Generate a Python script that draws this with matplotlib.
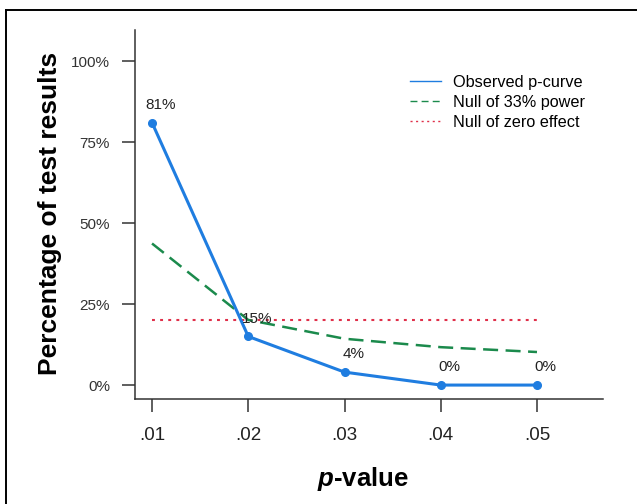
import matplotlib
matplotlib.use("Agg")
import matplotlib.pyplot as plt
from matplotlib.lines import Line2D

plt.rcParams['font.family'] = ['Liberation Sans', 'DejaVu Sans']
plt.rcParams['mathtext.fontset'] = 'custom'
plt.rcParams['mathtext.it'] = 'Liberation Sans:bold:italic'
plt.rcParams['mathtext.rm'] = 'Liberation Sans:bold'

# data
p_values = [0.01, 0.02, 0.03, 0.04, 0.05]
x_tick_labels = ['.01', '.02', '.03', '.04', '.05']
observed = [81, 15, 4, 0, 0]
null_33 = [43.7, 20.1, 14.3, 11.7, 10.2]
null_zero = [20, 20, 20, 20, 20]
y_ticks = [0, 25, 50, 75, 100]
y_tick_labels = ['0%', '25%', '50%', '75%', '100%']
legend_labels = ['Observed p-curve', 'Null of 33% power', 'Null of zero effect']

blue = '#1F7DE0'
green = '#1B8A4C'
red = '#E0304A'

fig = plt.figure(figsize=(6.37, 5.04), dpi=100)
ax = fig.add_axes([135 / 637, 1 - 399 / 504, 468 / 637, 369 / 504])

ax.plot(p_values, null_zero, color=red, lw=1.5, dashes=(1.4, 2.5))
ax.plot(p_values, null_33, color=green, lw=1.8, dashes=(6, 3))
ax.plot(p_values, observed, color=blue, lw=2.2, marker='o', markersize=5.5)

for x, y in zip(p_values, observed):
    ax.text(x + 0.0009, y + 5.5, f'{y}%', ha='center', va='center',
            fontsize=11, color='#222222')

ax.set_xlim(0.00823, 0.05686)
ax.set_ylim(-4.3, 109.6)
ax.set_xticks(p_values)
ax.set_xticklabels(x_tick_labels, fontsize=13.5, color='#222222')
ax.set_yticks(y_ticks)
ax.set_yticklabels(y_tick_labels, fontsize=11, color='#333333')

for side in ['top', 'right']:
    ax.spines[side].set_visible(False)
for side in ['left', 'bottom']:
    ax.spines[side].set_linewidth(1.1)
    ax.spines[side].set_color('#333333')
ax.tick_params(axis='both', direction='out', length=9.4, width=1.1, color='#333333')
ax.tick_params(axis='y', pad=8.6)
ax.tick_params(axis='x', pad=11)

ax.set_ylabel('Percentage of test results', fontsize=19, fontweight='bold', va='center')
ax.yaxis.set_label_coords(-0.1816, 0.504)
ax.set_xlabel(r'$\it{p}$-value', fontsize=18.5, fontweight='bold', va='center')
ax.xaxis.set_label_coords(0.487, -0.216)

handles = [
    Line2D([], [], color=blue, lw=1.0),
    Line2D([], [], color=green, lw=1.0, dashes=(5, 3)),
    Line2D([], [], color=red, lw=1.0, dashes=(1.5, 2.5)),
]
ax.legend(handles, legend_labels, loc='upper left', bbox_to_anchor=(0.5876, 0.878),
          frameon=False, fontsize=11.7, borderpad=0, borderaxespad=0,
          handlelength=1.9, handletextpad=0.75, labelspacing=0.3)

# frame left over from the original screenshot
fx = 6 / 637
fy = 1 - 10 / 504
fig.add_artist(Line2D([fx, fx], [0, fy], color='black', lw=1.4, transform=fig.transFigure))
fig.add_artist(Line2D([fx, 1], [fy, fy], color='black', lw=1.4, transform=fig.transFigure))

fig.savefig('out.png', dpi=100)
